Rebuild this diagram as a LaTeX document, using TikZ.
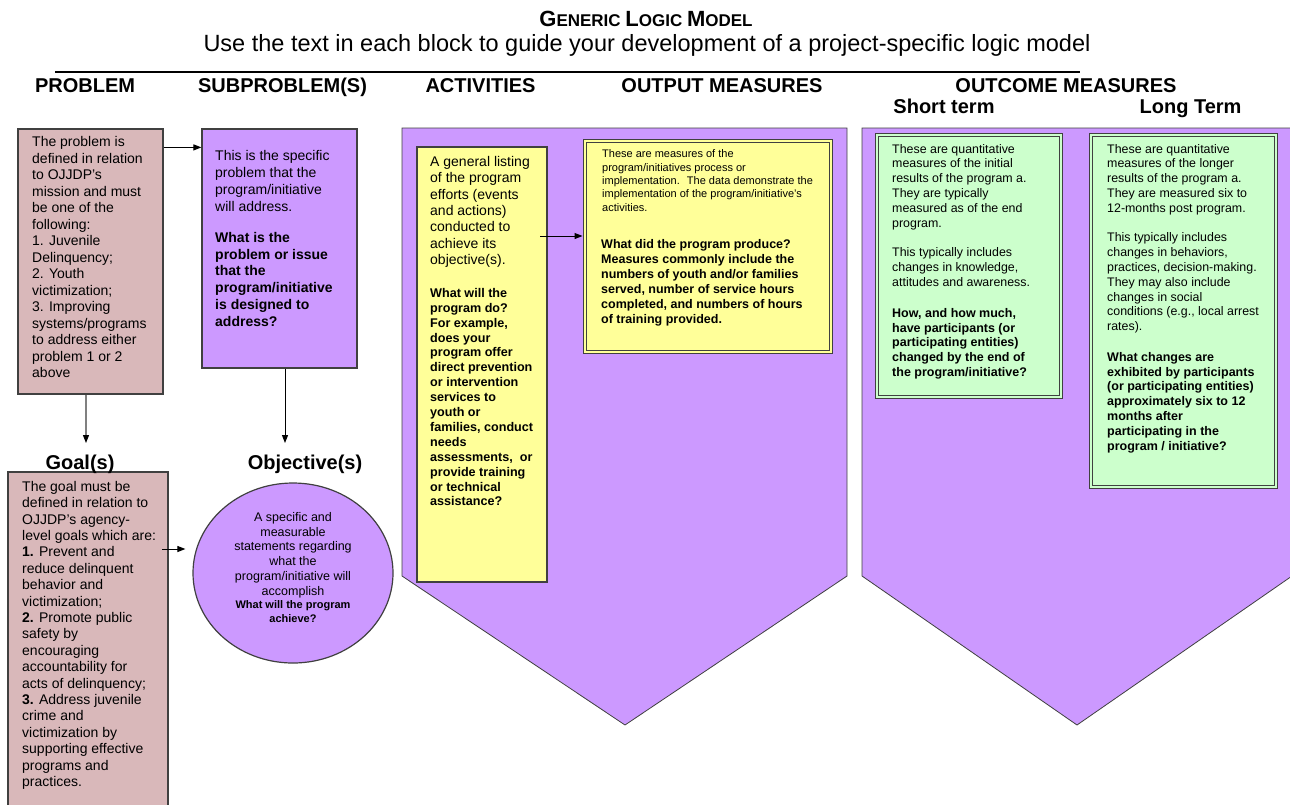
\documentclass[tikz,border=0pt]{standalone}
\usepackage{fontspec}
\setmainfont{Liberation Sans}
\usetikzlibrary{arrows.meta,shapes.geometric}

\definecolor{probpink}{RGB}{217,184,186}
\definecolor{lilac}{RGB}{204,153,255}
\definecolor{paleyellow}{RGB}{255,255,153}
\definecolor{palegreen}{RGB}{204,255,204}
\definecolor{edgegray}{RGB}{64,64,64}

\newcommand{\setfs}[2]{\fontsize{#1}{#2}\selectfont}

\tikzset{
  box/.style={draw=edgegray, line width=1.2pt, rectangle, inner sep=0pt},
  dblbox/.style={draw=edgegray, line width=1pt, double distance=2pt, rectangle, inner sep=0pt},
  txt/.style={anchor=north west, inner sep=0pt, align=left},
  hdr/.style={anchor=base, inner sep=0pt, font=\setfs{20}{22}\bfseries},
  arr/.style={-{Triangle[length=8pt,width=6pt]}, line width=1pt},
  garr/.style={-{Triangle[length=8pt,width=6pt,color=black]}, draw=gray, line width=1.2pt},
}

\begin{document}
\begin{tikzpicture}[x=1pt,y=-1pt]
    \useasboundingbox (0,0) rectangle (1290,804);
    \clip (0,0) rectangle (1290,804);

    % Title
    \node[anchor=base, inner sep=0pt] (title) at (646,26)
      {\bfseries\setfs{22}{24}G\setfs{17}{24}ENERIC \setfs{22}{24}L\setfs{17}{24}OGIC \setfs{22}{24}M\setfs{17}{24}ODEL};
    \node[anchor=base, inner sep=0pt, font=\setfs{23.5}{26}] (subtitle) at (647,51.5)
      {Use the text in each block to guide your development of a project-specific logic model};
    \draw[line width=1.6pt] (55,72) -- (1080,72);

    % Column heads
    \node[hdr] (hproblem) at (85,92) {PROBLEM};
    \node[hdr] (hsub) at (282.5,92) {SUBPROBLEM(S)};
    \node[hdr] (hact) at (480.5,92) {ACTIVITIES};
    \node[hdr] (hout) at (722,92) {OUTPUT MEASURES};
    \node[hdr] (houtcome) at (1066,92) {OUTCOME MEASURES};
    \node[hdr] (hshort) at (944,113) {Short term};
    \node[hdr] (hlong) at (1190.5,113) {Long Term};

    % Arrow shapes
    \filldraw[fill=lilac, draw=edgegray, line width=0.8pt]
      (402,128) -- (847,128) -- (847,576) -- (625,725) -- (402,576) -- cycle;
    \filldraw[fill=lilac, draw=edgegray, line width=0.8pt]
      (862,128) -- (1292,128) -- (1292,576) -- (1077,725) -- (862,576) -- cycle;

    % Nodes
    \node[box, fill=probpink, minimum width=145pt, minimum height=265pt] (prob) at (90.5,261.5) {};
    \node[box, fill=lilac, minimum width=155pt, minimum height=239pt] (sub) at (279.5,248.5) {};
    \node[box, fill=paleyellow, minimum width=130pt, minimum height=435pt] (act) at (482,364.5) {};
    \node[dblbox, fill=paleyellow, double=paleyellow, minimum width=246pt, minimum height=211pt] (out) at (708,246.5) {};
    \node[dblbox, fill=palegreen, double=palegreen, minimum width=184pt, minimum height=262pt] (short) at (969,266) {};
    \node[dblbox, fill=palegreen, double=palegreen, minimum width=185pt, minimum height=352pt] (long) at (1183.5,311) {};
    \node[box, fill=probpink, minimum width=160pt, minimum height=358pt] (goal) at (88,651) {};
    \node[ellipse, draw=edgegray, line width=1.2pt, fill=lilac, inner sep=0pt,
          minimum width=200pt, minimum height=180pt] (obj) at (293,573) {};

    \node[hdr] (goallbl) at (80,469) {Goal(s)};
    \node[hdr] (objlbl) at (305,469) {Objective(s)};

    % Text in the blocks
    \node[txt, font=\setfs{14}{16.5}] (probtxt) at (32,136.5)
      {The problem is\\defined in relation\\to OJJDP’s\\mission and must\\be one of the\\following:\\1. Juvenile\\Delinquency;\\2. Youth\\victimization;\\3. Improving\\systems/programs\\to address either\\problem 1 or 2\\above};
    \node[txt, font=\setfs{14}{17}] (subtxt) at (215,150)
      {This is the specific\\problem that the\\program/initiative\\will address.};
    \node[txt, font=\setfs{14}{16.8}\bfseries] (subq) at (215,232)
      {What is the\\problem or issue\\that the\\program/initiative\\is designed to\\address?};
    \node[txt, font=\setfs{14}{16.4}] (acttxt) at (430,156)
      {A general listing\\of the program\\efforts (events\\and actions)\\conducted to\\achieve its\\objective(s).};
    \node[txt, font=\setfs{12.6}{14.9}\bfseries] (actq) at (430,288)
      {What will the\\program do?\\For example,\\does your\\program offer\\direct prevention\\or intervention\\services to\\youth or\\families, conduct\\needs\\assessments,~ or\\provide training\\or technical\\assistance?};
    \node[txt, font=\setfs{11}{13.4}] (outtxt) at (602,149.5)
      {These are measures of the\\program/initiatives process or\\implementation.~ The data demonstrate the\\implementation of the program/initiative’s\\activities.};
    \node[txt, font=\setfs{12.5}{15}\bfseries] (outq) at (601,239.5)
      {What did the program produce?\\Measures commonly include the\\numbers of youth and/or families\\served, number of service hours\\completed, and numbers of hours\\of training provided.};
    \node[txt, font=\setfs{12.4}{14.8}] (shorttxt) at (892,144)
      {These are quantitative\\measures of the initial\\results of the program a.\\They are typically\\measured as of the end\\program.\\[14.8pt]This typically includes\\changes in knowledge,\\attitudes and awareness.};
    \node[txt, font=\setfs{12.5}{14.8}\bfseries] (shortq) at (892,308)
      {How, and how much,\\have participants (or\\participating entities)\\changed by the end of\\the program/initiative?};
    \node[txt, font=\setfs{12.4}{14.8}] (longtxt) at (1107,144)
      {These are quantitative\\measures of the longer\\results of the program a.\\They are measured six to\\12-months post program.\\[14.8pt]This typically includes\\changes in behaviors,\\practices, decision-making.\\They may also include\\changes in social\\conditions (e.g., local arrest\\rates).};
    \node[txt, font=\setfs{12.5}{14.8}\bfseries] (longq) at (1107,352)
      {What changes are\\exhibited by participants\\(or participating entities)\\approximately six to 12\\months after\\participating in the\\program / initiative?};
    \node[txt, font=\setfs{14}{16.4}] (goaltxt) at (22,481)
      {The goal must be\\defined in relation to\\OJJDP’s agency-\\level goals which are:\\\textbf{1.} Prevent and\\reduce delinquent\\behavior and\\victimization;\\\textbf{2.} Promote public\\safety by\\encouraging\\accountability for\\acts of delinquency;\\\textbf{3.} Address juvenile\\crime and\\victimization by\\supporting effective\\programs and\\practices.};
    \node[anchor=north, inner sep=0pt, align=center, font=\setfs{12.5}{14.8}] (objtxt) at (293,512)
      {A specific and\\measurable\\statements regarding\\what the\\program/initiative will\\accomplish};
    \node[anchor=north, inner sep=0pt, align=center, font=\setfs{11}{14}\bfseries] (objq) at (293,600.5)
      {What will the program\\achieve?};

    % Connection
    \coordinate (goaltip) at (86,443);
    \coordinate (objtip) at (285,443);
    \coordinate (goalout) at (162,549);
    \coordinate (actout) at (540,236);
    \draw[arr] ([yshift=-19pt]prob.north east) -- ([yshift=-19pt]sub.north west);
    \draw[garr] (prob.south -| goaltip) -- (goaltip);
    \draw[arr] (sub.south -| objtip) -- (objtip);
    \draw[arr] (goalout) -- ([xshift=-7pt]obj.west |- goalout);
    \draw[arr] (actout) -- ([xshift=-2pt]out.west |- actout);
\end{tikzpicture}
\end{document}
